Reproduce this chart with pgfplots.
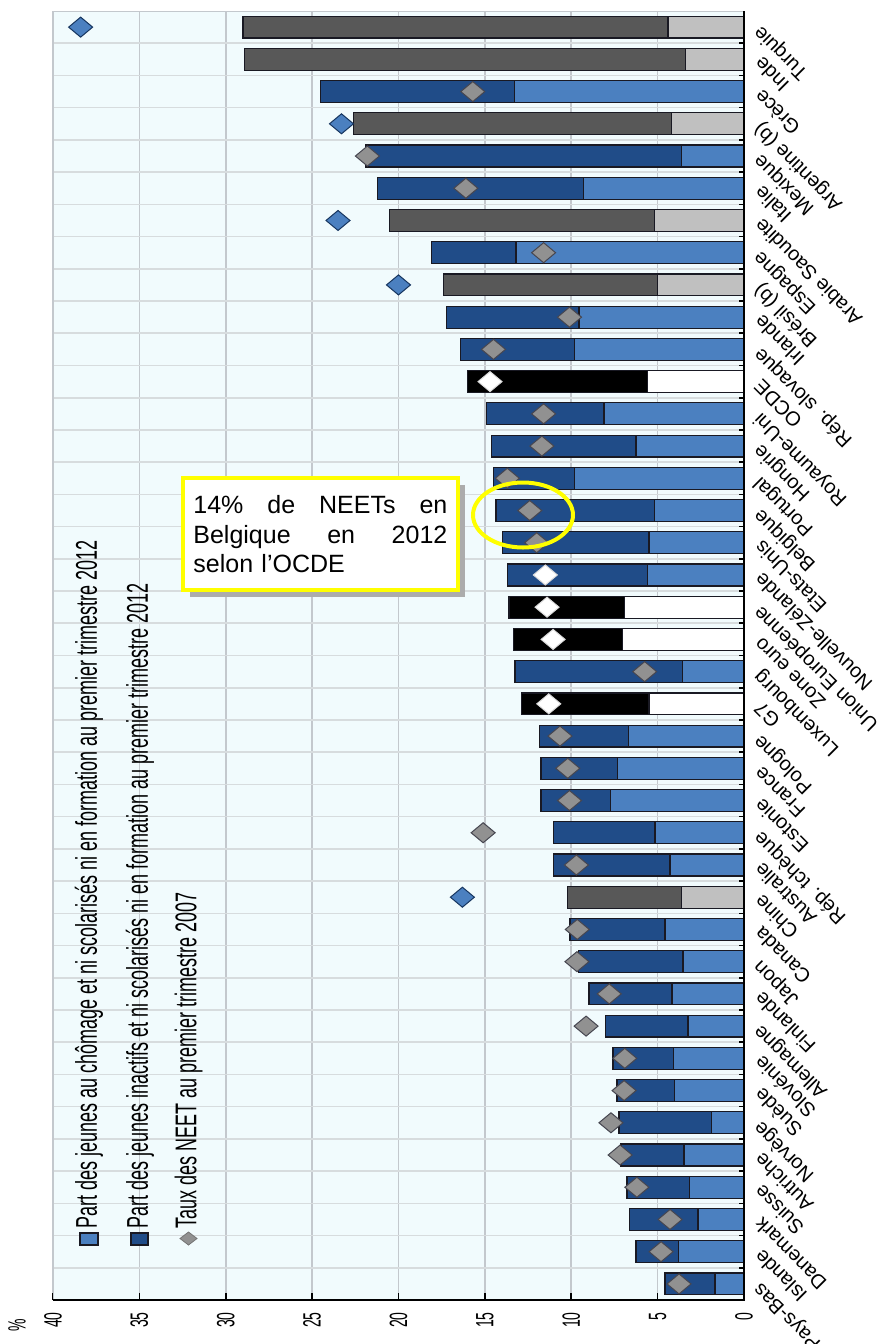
\documentclass[border=0pt]{standalone}
\usepackage{pgfplots}
\pgfplotsset{compat=1.18}
\usepackage{pgfplotstable}
\usepackage{fontspec}
\setmainfont{Liberation Sans}
\newfontfamily\narrowfont[FakeStretch=0.56]{Liberation Sans}
\newfontfamily\legfont[FakeStretch=0.6]{Liberation Sans}

\definecolor{lblue}{RGB}{75,128,192}
\definecolor{dblue}{RGB}{32,76,136}
\definecolor{lgrey}{RGB}{192,192,192}
\definecolor{dgrey}{RGB}{88,88,88}
\definecolor{barline}{RGB}{25,25,35}
\definecolor{bgc}{RGB}{241,251,253}
\definecolor{gridv}{RGB}{195,200,205}
\definecolor{gridh}{RGB}{215,220,222}
\definecolor{diagrey}{RGB}{145,145,145}
\definecolor{diaedge}{RGB}{70,70,80}
\definecolor{callout}{RGB}{255,255,0}

% OECD countries: total NEET 2012 and unemployed part
\pgfplotstableread{
y tot light
2 24.5 13.3
4 21.9 3.6
5 21.2 9.3
7 18.1 13.2
9 17.2 9.55
10 16.4 9.8
12 14.9 8.1
13 14.6 6.25
14 14.5 9.8
15 14.35 5.2
16 14.0 5.5
17 13.7 5.6
20 13.25 3.55
22 11.85 6.7
23 11.75 7.3
24 11.75 7.75
25 11.05 5.15
26 11.05 4.28
28 10.07 4.57
29 9.6 3.53
30 8.97 4.17
31 8.04 3.24
32 7.58 4.1
33 7.35 4.0
34 7.23 1.9
35 7.12 3.47
36 6.77 3.15
37 6.65 2.66
38 6.25 3.8
39 4.57 1.68
}\oecd

\pgfplotstableread{
y tot light
0 29.0 4.4
1 28.9 3.4
3 22.6 4.2
6 20.5 5.2
8 17.4 5.0
27 10.2 3.6
}\other

\pgfplotstableread{
y tot light
11 16.0 5.6
18 13.6 6.9
19 13.35 7.05
21 12.9 5.5
}\aggr

% NEET rate 2007
\pgfplotstableread{
y v
2 15.7
4 21.8
5 16.1
7 11.6
9 10.1
10 14.5
12 11.6
13 11.7
14 13.7
15 12.4
16 12.0
20 5.75
22 10.65
23 10.2
24 10.1
25 15.1
26 9.7
28 9.65
29 9.67
30 7.8
31 9.14
32 6.9
33 6.94
34 7.7
35 7.17
36 6.2
37 4.28
38 4.8
39 3.76
}\diagrey

\pgfplotstableread{
y v
0 38.4
3 23.3
6 23.5
8 20.0
27 16.3
}\diablue

\pgfplotstableread{
y v
11 14.7
17 11.5
18 11.4
19 11.05
21 11.3
}\diawhite

\begin{document}
\begin{tikzpicture}
\begin{axis}[
    name=ax, at={(26.5pt,-5.5pt)}, anchor=north west,
    scale only axis, width=345.5pt, height=644.5pt,
    xmin=0, xmax=40, x dir=reverse,
    ymin=-0.5, ymax=39.5, y dir=reverse,
    clip=false,
    axis background/.style={fill=bgc},
    axis line style={draw=gridv},
    tick align=inside,
    xtick pos=bottom,
    ytick pos=right,
    yticklabel pos=right,
    xtick={0,5,...,40},
    xticklabels={0,5,10,15,20,25,30,35,40},
    xticklabel style={font=\narrowfont\fontsize{12.5}{13}\selectfont, rotate=90, anchor=east, inner sep=6pt},
    xmajorgrids=true,
    major grid style={gridv, line width=0.8pt},
    ytick={0,...,39},
    yticklabels={Turquie, Inde, Grèce, Argentine (b), Mexique, Italie, Arabie Saoudite, Espagne, Brésil (b), Irlande, Rép. slovaque, OCDE, Royaume-Uni, Hongrie, Portugal, Belgique, Etats-Unis, Nouvelle-Zélande, Union Européenne, Zone euro, Luxembourg, G7, Pologne, France, Estonie, Rép. tchèque, Australie, Chine, Canada, Japon, Finlande, Allemagne, Slovénie, Suède, Norvège, Autriche, Suisse, Danemark, Islande, Pays-Bas},
    yticklabel style={font=\fontsize{10}{12}\selectfont, xshift=6pt, rotate=135, anchor=east, inner sep=1pt},
    major y tick style={draw=none},
    minor ytick={0.5,1.5,...,38.5},
    yminorgrids=true,
    minor grid style={gridh, line width=0.8pt},
    minor tick length=2.5pt,
    major tick length=3.5pt,
    every tick/.style={black, line width=0.8pt},
]
% full bars (dark part), then the unemployed part on top
\addplot[xbar, bar shift=0pt, bar width=0.68, fill=dblue, draw=barline, line width=0.6pt]
    table[x=tot, y=y] {\oecd};
\addplot[xbar, bar shift=0pt, bar width=0.68, fill=lblue, draw=barline, line width=0.6pt]
    table[x=light, y=y] {\oecd};
\addplot[xbar, bar shift=0pt, bar width=0.68, fill=dgrey, draw=barline, line width=0.6pt]
    table[x=tot, y=y] {\other};
\addplot[xbar, bar shift=0pt, bar width=0.68, fill=lgrey, draw=barline, line width=0.6pt]
    table[x=light, y=y] {\other};
\addplot[xbar, bar shift=0pt, bar width=0.68, fill=black, draw=barline, line width=0.6pt]
    table[x=tot, y=y] {\aggr};
\addplot[xbar, bar shift=0pt, bar width=0.68, fill=white, draw=barline, line width=0.6pt]
    table[x=light, y=y] {\aggr};

\addplot[only marks, mark=diamond*, mark size=5pt, mark options={xscale=1.6, fill=diagrey, draw=diaedge, line width=0.5pt}]
    table[x=v, y=y] {\diagrey};
\addplot[only marks, mark=diamond*, mark size=5pt, mark options={xscale=1.6, fill=lblue, draw=dblue!70!black, line width=0.5pt}]
    table[x=v, y=y] {\diablue};
\addplot[only marks, mark=diamond*, mark size=5pt, mark options={xscale=1.6, fill=white, draw=white!85!black, line width=0.5pt}]
    table[x=v, y=y] {\diawhite};
\end{axis}

% dark bottom and right axis lines
\draw[black, line width=1pt] (26.5pt,-650pt) -- (372pt,-650pt) -- (372pt,-5.5pt);
\node[font=\narrowfont\fontsize{12.5}{13}\selectfont, rotate=90] at (8.5pt,-662.5pt) {\%};

% legend (turned like the chart)
\draw[fill=lblue, draw=barline, line width=0.6pt] (40pt,-616.5pt) rectangle (49pt,-622.5pt);
\draw[fill=dblue, draw=barline, line width=0.6pt] (65.5pt,-616.5pt) rectangle (74pt,-622.5pt);
\filldraw[fill=diagrey, draw=diagrey!80!black, line width=0.4pt]
    (90pt,-619.25pt) -- (94.25pt,-616pt) -- (98.5pt,-619.25pt) -- (94.25pt,-622.5pt) -- cycle;
\begin{scope}[every node/.style={rotate=90, anchor=west, inner sep=0pt, font=\legfont\fontsize{15}{17}\selectfont}]
\node at (44.5pt,-614.5pt) {Part des jeunes au chômage et ni scolarisés ni en formation au premier trimestre 2012};
\node at (70pt,-614.5pt) {Part des jeunes inactifs et ni scolarisés ni en formation au premier trimestre 2012};
\node at (94.25pt,-614.5pt) {Taux des NEET au premier trimestre 2007};
\end{scope}

% callout
\fill[gray!65] (95pt,-242.5pt) rectangle (232.5pt,-298.5pt);
\draw[callout, line width=2pt, fill=white] (91.5pt,-239pt) rectangle (229pt,-295pt);
\node[anchor=north west, text width=127pt, align=left, inner sep=0pt,
      font=\fontsize{12.5}{14.75}\selectfont] at (96.5pt,-247.5pt)
    {14\%\hfill de\hfill NEETs\hfill en\\Belgique\hfill en\hfill 2012\\selon l’OCDE};
\draw[callout, line width=2pt] (261.5pt,-257.5pt) ellipse (25pt and 16.25pt);

\pgfresetboundingbox
\path[use as bounding box] (0pt,0pt) rectangle (443.5pt,-672pt);
\end{tikzpicture}
\end{document}
